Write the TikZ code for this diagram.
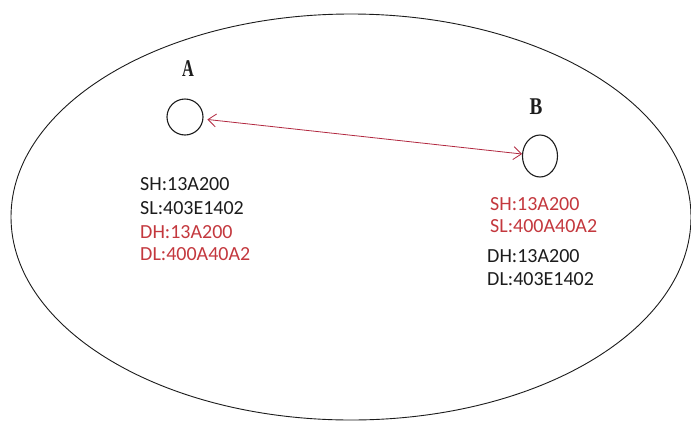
\documentclass[tikz,border=0pt]{standalone}
\usepackage{fontspec}
\setmainfont{Carlito}
\newfontfamily\labelfont{Liberation Serif}
\usetikzlibrary{arrows.meta}
\definecolor{inkred}{RGB}{196,56,62}
\definecolor{linkred}{RGB}{178,40,64}
\definecolor{inkgray}{RGB}{28,28,28}
\tikzset{
  host/.style={draw=inkgray, line width=1.1pt, ellipse, inner sep=0pt},
  hostname/.style={font=\labelfont\bfseries\fontsize{24}{24}\selectfont, text=inkgray, inner sep=0pt},
  addr/.style={font=\fontsize{20}{22}\selectfont, anchor=west, inner sep=0pt},
  addrblack/.style={addr, text=inkgray},
  addrred/.style={addr, text=inkred},
}
\usetikzlibrary{shapes.geometric}
\begin{document}
\begin{tikzpicture}[x=1pt, y=-1pt]
  \useasboundingbox (0,0) rectangle (691,421);
  \fill[white] (0,0) rectangle (691,421);

  % the network boundary
  \node[draw=inkgray, line width=0.9pt, ellipse, minimum width=680pt, minimum height=406pt, inner sep=0pt] (net) at (351,217) {};

  % hosts
  \node[host, minimum width=36pt, minimum height=36pt] (A) at (185,117) {};
  \node[host, minimum width=35pt, minimum height=42pt] (B) at (540,156) {};
  \node[hostname] (Alabel) at (188,69) {\scalebox{0.68}[1]{A}};
  \node[hostname] (Blabel) at (536,107) {\scalebox{0.8}[1]{B}};

  % link between the hosts
  \draw[linkred, line width=0.8pt, {Straight Barb[length=8pt,width=13pt]}-{Straight Barb[length=8pt,width=13pt]}, shorten <=4pt]
    (A) -- (B);

  % address fields at A
  \node[addrblack] (ash) at (140,184) {SH:13A200};
  \node[addrblack] (asl) at (140,208) {SL:403E1402};
  \node[addrred]   (adh) at (140,232) {DH:13A200};
  \node[addrred]   (adl) at (140,254) {DL:400A40A2};

  % address fields at B
  \node[addrred]   (bsh) at (490,204) {SH:13A200};
  \node[addrred]   (bsl) at (490,226) {SL:400A40A2};
  \node[addrblack] (bdh) at (487,256) {DH:13A200};
  \node[addrblack] (bdl) at (487,279) {DL:403E1402};
\end{tikzpicture}
\end{document}
